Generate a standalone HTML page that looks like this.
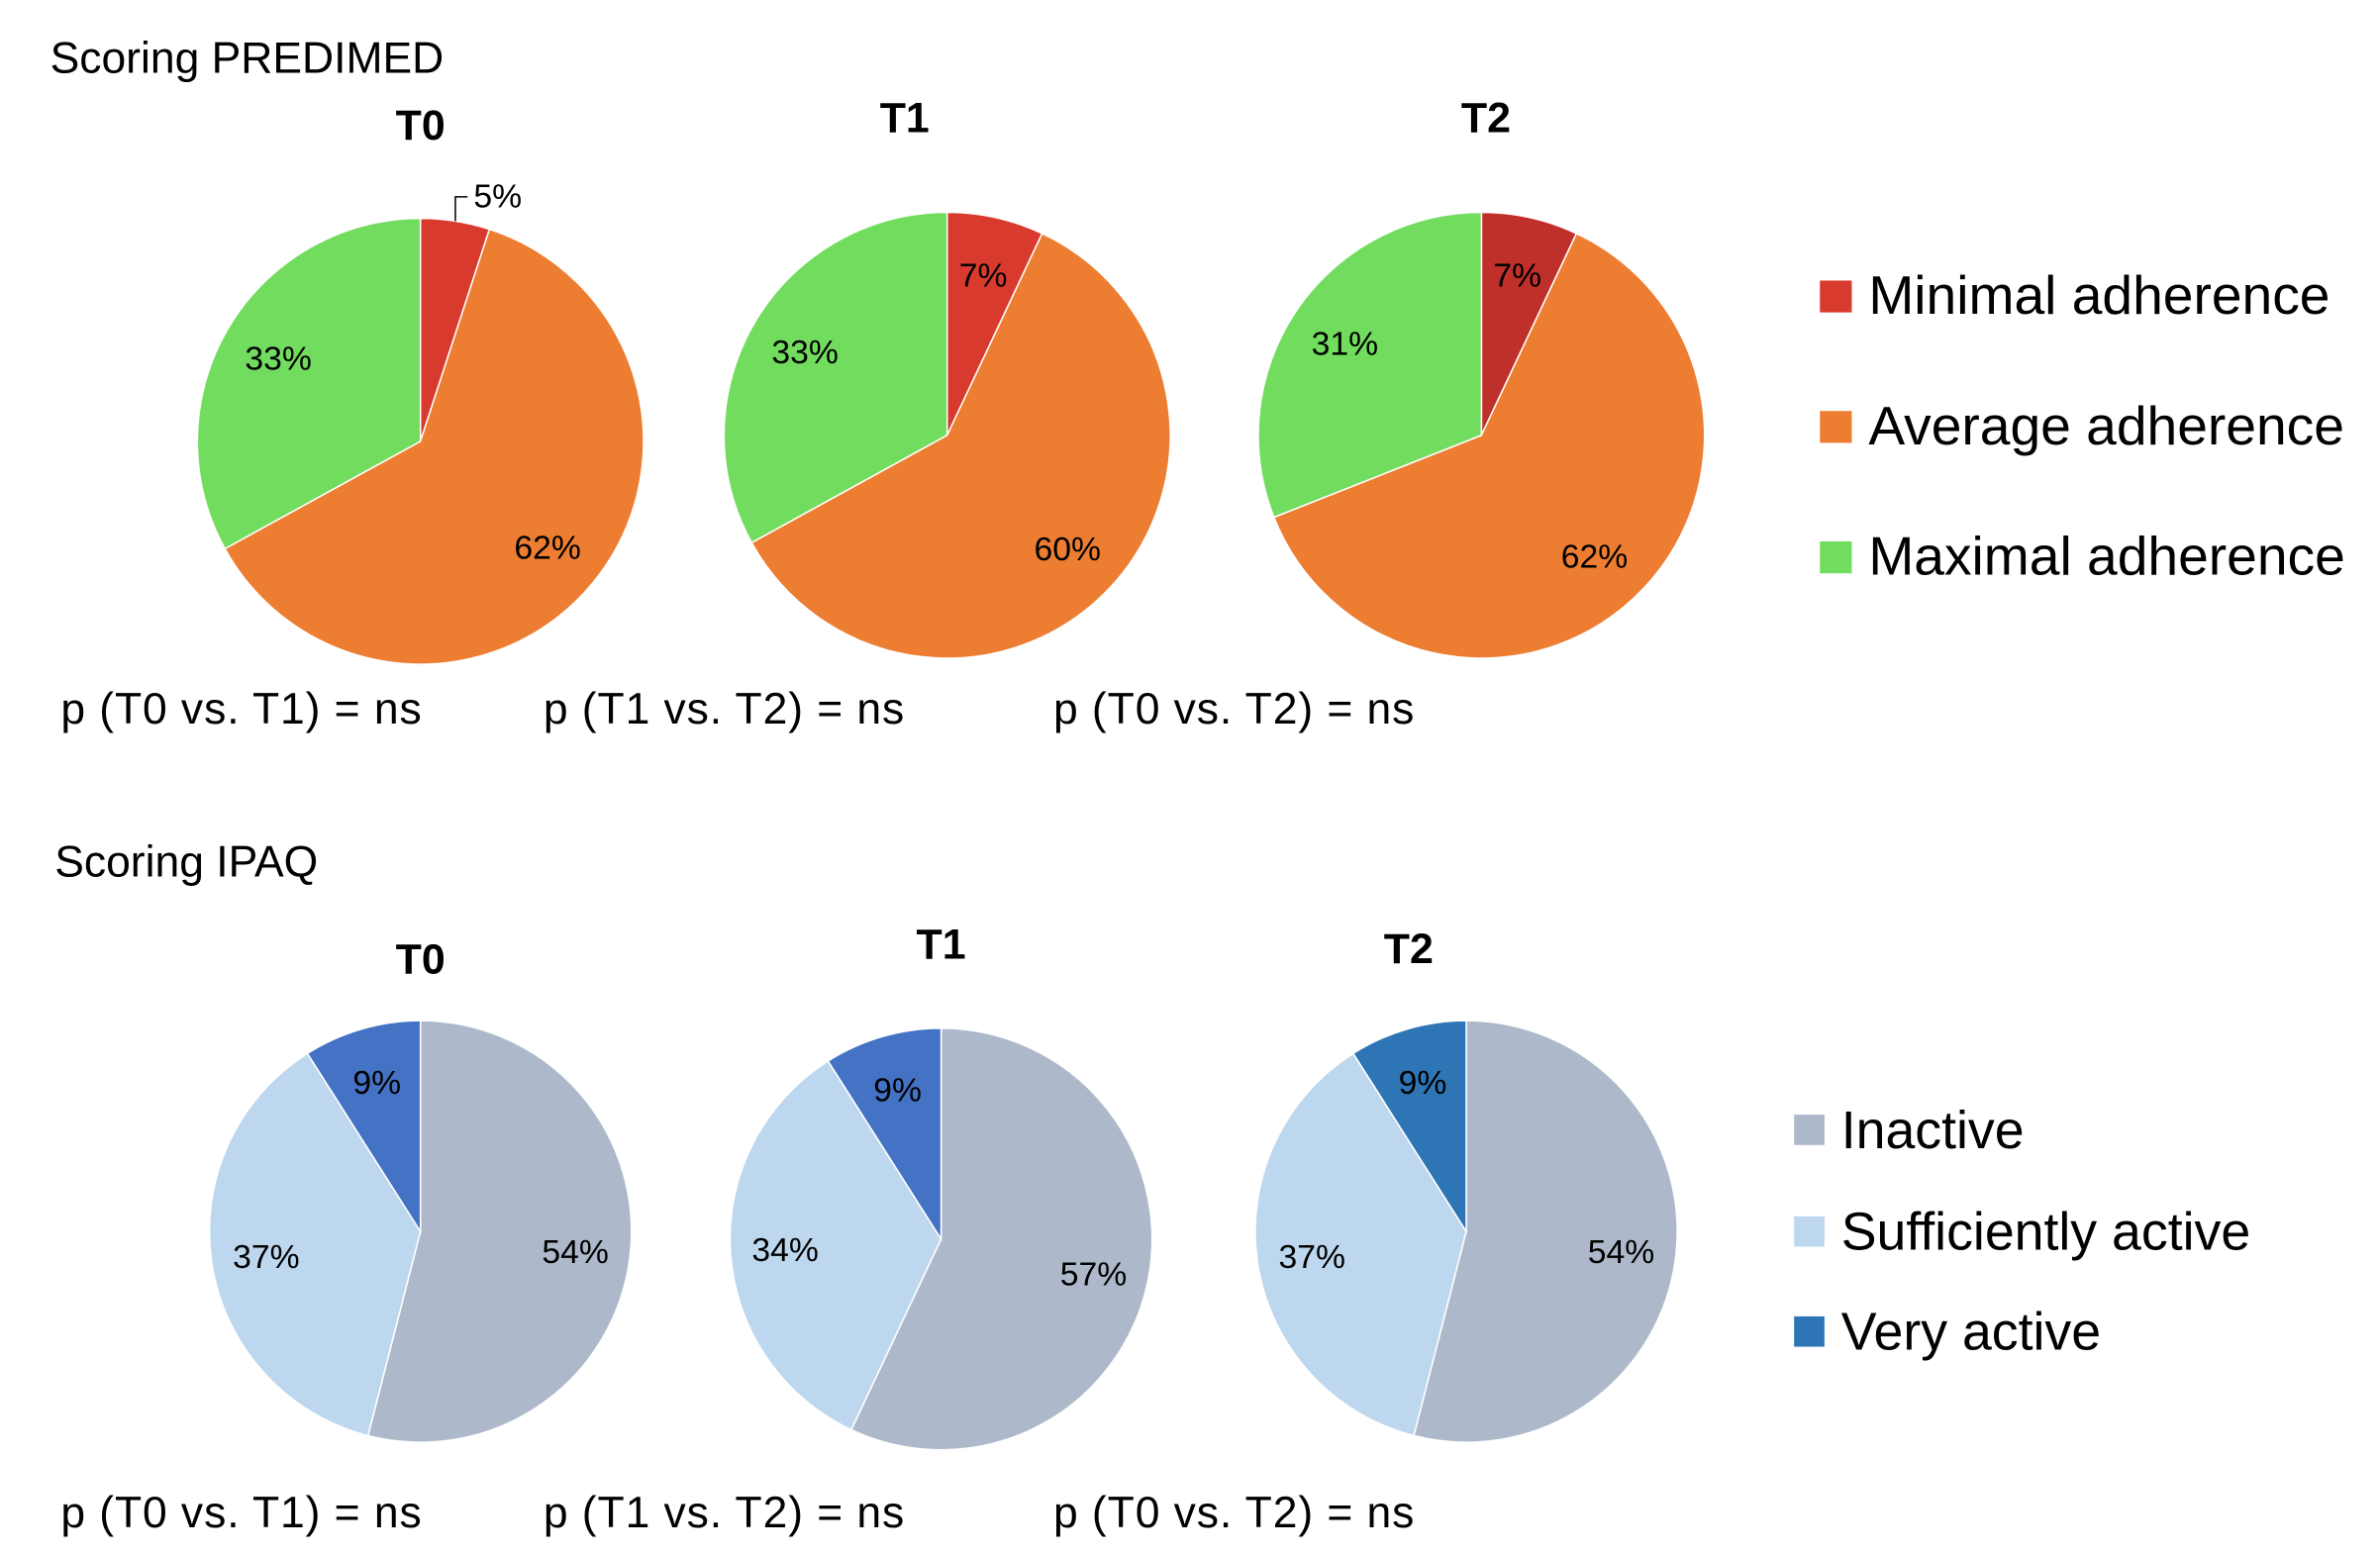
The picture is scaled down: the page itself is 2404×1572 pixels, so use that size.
<!DOCTYPE html>
<html><head><meta charset="utf-8">
<style>
html,body{margin:0;padding:0;background:#fff;}
svg{display:block;font-family:"Liberation Sans","DejaVu Sans",sans-serif;}
</style></head>
<body>
<svg width="2404" height="1572" viewBox="0 0 1568 1026" preserveAspectRatio="none" xmlns="http://www.w3.org/2000/svg">
<g id="root"></g>
</svg>
<script>
const predCategories = ["Minimal adherence","Average adherence","Maximal adherence"];
const predT0 = [5,62,33];
const predT1 = [7,60,33];
const predT2 = [7,62,31];
const ipaqCategories = ["Inactive","Sufficiently active","Very active"];
const ipaqT0 = [54,37,9];
const ipaqT1 = [57,34,9];
const ipaqT2 = [54,37,9];
const timeLabels = ["T0","T1","T2"];
const pLabels = ["p (T0 vs. T1) = ns","p (T1 vs. T2) = ns","p (T0 vs. T2) = ns"];

const NS="http://www.w3.org/2000/svg";
const root=document.getElementById('root');
function el(tag,attrs,parent){const e=document.createElementNS(NS,tag);for(const k in attrs)e.setAttribute(k,attrs[k]);(parent||root).appendChild(e);return e;}
function txt(s,x,y,size,opts,name){const t=el('text',Object.assign({x:x,y:y,'font-size':size,fill:'#000'},opts||{}));t.textContent=s;


return t;}

function pie(vals,cx,cy,r,colors,name,labelSkip){
  const g=el('g',{});
  
  
  const total=vals.reduce((a,b)=>a+b,0);
  let acc=0;
  vals.forEach((v,i)=>{
    const a0=acc/total*2*Math.PI, a1=(acc+v)/total*2*Math.PI;
    const x0=cx+r*Math.sin(a0), y0=cy-r*Math.cos(a0), x1=cx+r*Math.sin(a1), y1=cy-r*Math.cos(a1);
    const large=(a1-a0)>Math.PI?1:0;
    const p=el('path',{d:`M${cx},${cy} L${x0},${y0} A${r},${r} 0 ${large} 1 ${x1},${y1} Z`,fill:colors[i],stroke:'#fff','stroke-width':1},g);
    
    
    const am=(a0+a1)/2;
    if(labelSkip!==i){
      const lr=0.74*r;
      txt(v+'%',cx+lr*Math.sin(am),cy-lr*Math.cos(am)+8,22,{'text-anchor':'middle'},name+'-label-'+i);
    } else {
      const sx=cx+r*Math.sin(am), sy=cy-r*Math.cos(am);
      el('path',{d:`M${sx},${sy} L${sx},${sy-16} L${sx+8},${sy-16}`,fill:'none',stroke:'#000','stroke-width':1},g);
      txt(v+'%',sx+12,sy-9,22,{},name+'-label-'+i);
    }
    acc+=v;
  });
}

txt("Scoring PREDIMED",33,48,29,{},'predimed-section-title');
txt("Scoring IPAQ",36,578,29,{},'ipaq-section-title');

const predColors=[["#d93a2e","#ed7d31","#72dc5e"],["#d93a2e","#ed7d31","#72dc5e"],["#c0302a","#ed7d31","#72dc5e"]];
const predData=[predT0,predT1,predT2];
const predCenters=[[277,291],[624,287],[976,287]];
const predTitleY=[92,87,87];
const predTitleX=[277,596,979];
predData.forEach((d,i)=>{
  pie(d,predCenters[i][0],predCenters[i][1],147,predColors[i],'predimed-pie-'+timeLabels[i].toLowerCase(),i===0?0:-1);
  txt(timeLabels[i],predTitleX[i],predTitleY[i],28,{'font-weight':'bold','text-anchor':'middle'},'predimed-title-'+timeLabels[i].toLowerCase());
});

const ipaqColors=[["#adb9ca","#bdd7ee","#4472c4"],["#adb9ca","#bdd7ee","#4472c4"],["#adb9ca","#bdd7ee","#2e75b6"]];
const ipaqData=[ipaqT0,ipaqT1,ipaqT2];
const ipaqCenters=[[277,812],[620,817],[966,812]];
const ipaqTitleX=[277,620,928];
const ipaqTitleY=[642,632,635];
ipaqData.forEach((d,i)=>{
  pie(d,ipaqCenters[i][0],ipaqCenters[i][1],139,ipaqColors[i],'ipaq-pie-'+timeLabels[i].toLowerCase(),-1);
  txt(timeLabels[i],ipaqTitleX[i],ipaqTitleY[i],28,{'font-weight':'bold','text-anchor':'middle'},'ipaq-title-'+timeLabels[i].toLowerCase());
});

const pX=[40,358,694];
pLabels.forEach((s,i)=>{
  txt(s,pX[i],477,29,{'letter-spacing':'0.6'},'predimed-pvalue-'+i);
  txt(s,pX[i],1007,29,{'letter-spacing':'0.6'},'ipaq-pvalue-'+i);
});

const predLegY=[195,281,367];
predCategories.forEach((c,i)=>{
  const r=el('rect',{x:1199,y:predLegY[i]-10,width:21,height:21,fill:predColors[0][i]});
  
  
  txt(c,1231,predLegY[i]+12,36,{},'predimed-legend-entry-'+i);
});
const ipaqLegY=[745,812,878];
const ipaqLegColors=["#adb9ca","#bdd7ee","#2e75b6"];
ipaqCategories.forEach((c,i)=>{
  const r=el('rect',{x:1182,y:ipaqLegY[i]-10,width:20,height:20,fill:ipaqLegColors[i]});
  
  
  txt(c,1213,ipaqLegY[i]+12,35,{},'ipaq-legend-entry-'+i);
});
</script>
</body></html>
